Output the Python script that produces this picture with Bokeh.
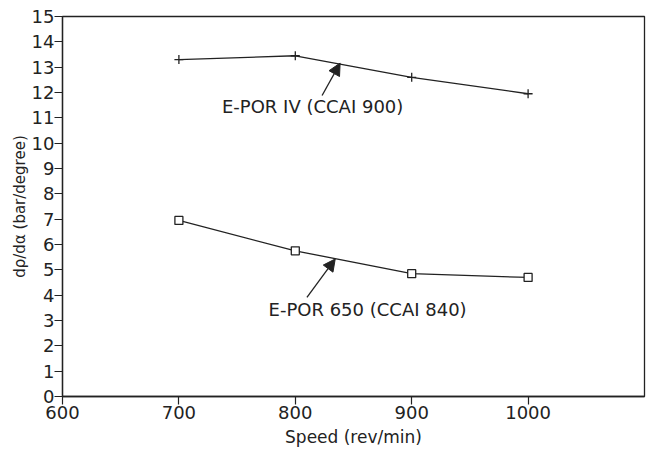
from bokeh.plotting import figure
from bokeh.models import Range1d, FixedTicker, Arrow, NormalHead
from bokeh.core.properties import value
from bokeh.embed import file_html
from bokeh.resources import INLINE

# Engine speed (rev/min) and the rate of pressure rise dp/dα (bar/degree)
speed = [700, 800, 900, 1000]
epor_iv = [13.3, 13.45, 12.6, 11.95]      # E-POR IV (CCAI 900)
epor_650 = [6.95, 5.75, 4.85, 4.7]        # E-POR 650 (CCAI 840)

x_ticks = [600, 700, 800, 900, 1000]
y_ticks = list(range(0, 16))

INK = "#222222"
FONT = "DejaVu Sans"

p = figure(width=652, height=453, output_backend="svg", toolbar_location=None,
           x_range=Range1d(600, 1100), y_range=Range1d(0, 15),
           min_border_left=62, min_border_right=8, min_border_top=16, min_border_bottom=57)
p.background_fill_color = "white"
p.border_fill_color = "white"
p.outline_line_color = INK
p.outline_line_width = 1.3
p.xgrid.visible = False
p.ygrid.visible = False

for ax in (p.xaxis[0], p.yaxis[0]):
    ax.axis_line_color = INK
    ax.axis_line_width = 1.3
    ax.major_tick_line_color = INK
    ax.major_tick_line_width = 1.2
    ax.major_tick_out = 8
    ax.major_tick_in = 0
    ax.minor_tick_line_color = None
    ax.major_label_text_font = FONT
    ax.major_label_text_font_size = "18px"
    ax.major_label_text_color = INK
    ax.axis_label_text_font = FONT
    ax.axis_label_text_font_style = "normal"
    ax.axis_label_text_color = INK

p.xaxis.ticker = FixedTicker(ticks=x_ticks)
p.yaxis.ticker = FixedTicker(ticks=y_ticks)
p.xaxis.major_label_standoff = 1
p.yaxis.major_label_standoff = 0
p.xaxis.axis_label = "Speed (rev/min)"
p.yaxis.axis_label = "dρ/dα (bar/degree)"
p.xaxis.axis_label_text_font_size = "17px"
p.yaxis.axis_label_text_font_size = "15px"
p.xaxis.axis_label_standoff = 5
p.yaxis.axis_label_standoff = 0

# upper series with cross markers
p.line(speed, epor_iv, line_color=INK, line_width=1.3)
p.scatter(speed, epor_iv, marker="cross", size=9, line_color=INK, line_width=1.3)

# lower series with open squares
p.line(speed, epor_650, line_color=INK, line_width=1.3)
p.scatter(speed, epor_650, marker="square", size=8, line_color=INK,
          fill_color="white", line_width=1.3)

# series captions with pointer arrows
labels = {
    "E-POR IV (CCAI 900)": dict(x=737, y=11.45, tail=(823, 11.88), head=(838.5, 13.16)),
    "E-POR 650 (CCAI 840)": dict(x=777, y=3.45, tail=(810, 3.91), head=(834.3, 5.43)),
}
for txt, d in labels.items():
    p.text(x=[d["x"]], y=[d["y"]], text=[txt], text_font=value(FONT),
           text_font_size="18px", text_color=INK, text_baseline="middle",
           text_align="left")
    p.add_layout(Arrow(end=NormalHead(size=12, fill_color=INK, line_color=INK),
                       x_start=d["tail"][0], y_start=d["tail"][1],
                       x_end=d["head"][0], y_end=d["head"][1],
                       line_color=INK, line_width=1.3))

open("out.html", "w").write(file_html(p, INLINE))
